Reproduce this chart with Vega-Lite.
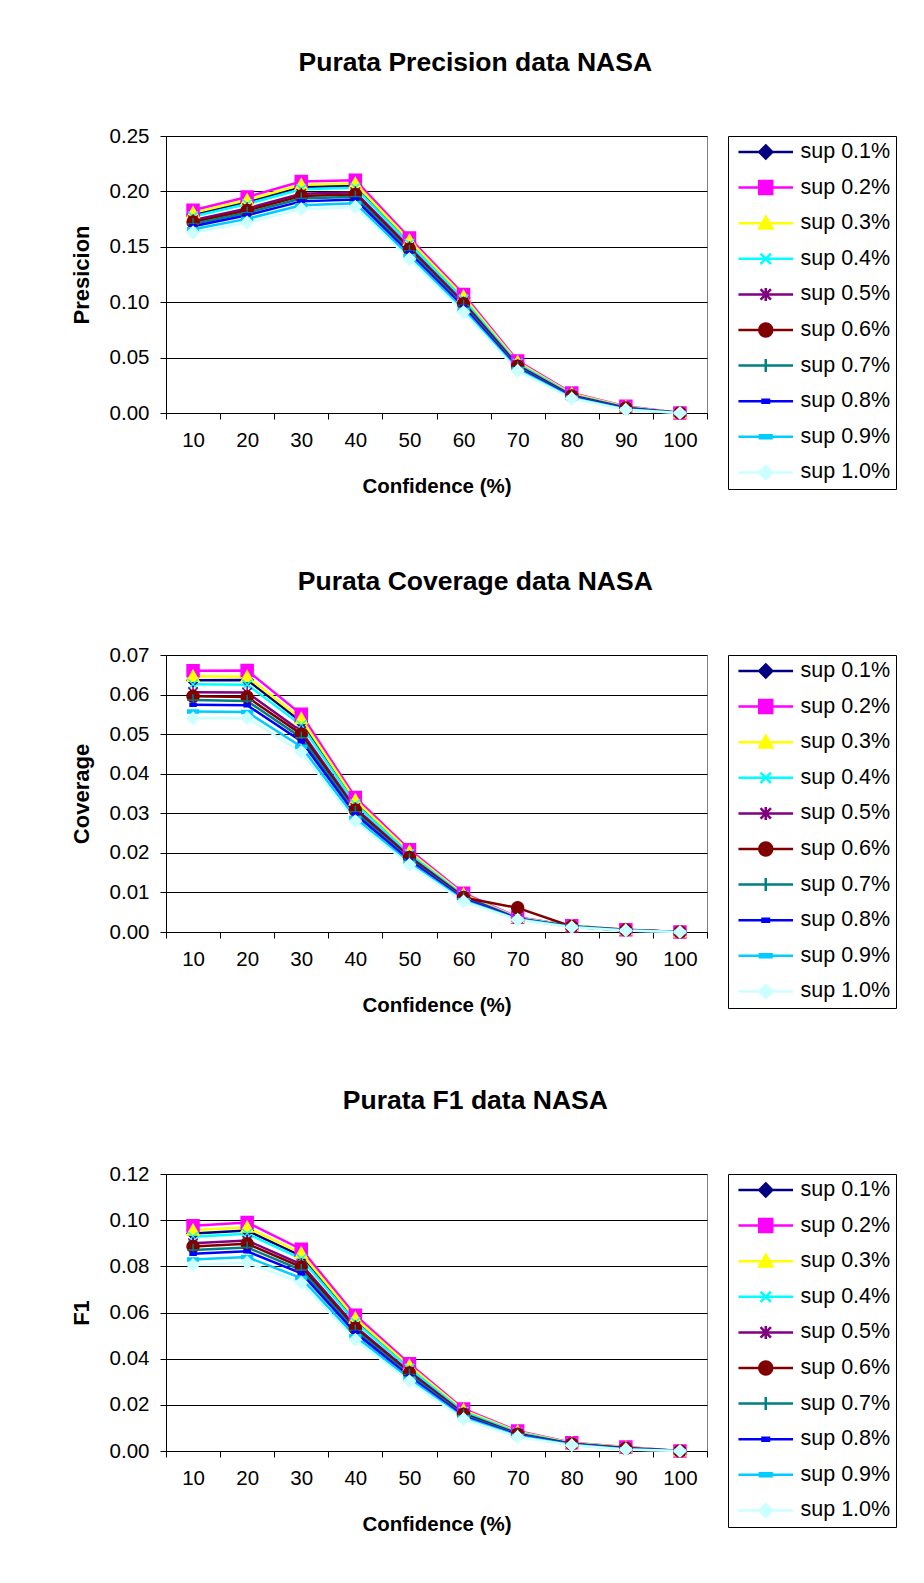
{
  "$schema": "https://vega.github.io/schema/vega-lite/v6.json",
  "padding": {"left": 69, "top": 49, "right": 5, "bottom": 5},
  "background": "white",
  "spacing": 70,
  "datasets": {
    "d": [
      {"sup": "sup 0.1%", "conf": 10, "p": 0.179, "c": 0.0636, "f": 0.0942},
      {"sup": "sup 0.1%", "conf": 20, "p": 0.1904, "c": 0.0637, "f": 0.0955},
      {"sup": "sup 0.1%", "conf": 30, "p": 0.204, "c": 0.0531, "f": 0.0845},
      {"sup": "sup 0.1%", "conf": 40, "p": 0.2052, "c": 0.0328, "f": 0.0567},
      {"sup": "sup 0.1%", "conf": 50, "p": 0.1542, "c": 0.02, "f": 0.0363},
      {"sup": "sup 0.1%", "conf": 60, "p": 0.1038, "c": 0.0094, "f": 0.0173},
      {"sup": "sup 0.1%", "conf": 70, "p": 0.0452, "c": 0.0036, "f": 0.0082},
      {"sup": "sup 0.1%", "conf": 80, "p": 0.017, "c": 0.0015, "f": 0.0034},
      {"sup": "sup 0.1%", "conf": 90, "p": 0.0054, "c": 0.0006, "f": 0.0015},
      {"sup": "sup 0.1%", "conf": 100, "p": 0, "c": 0, "f": 0},
      {"sup": "sup 0.2%", "conf": 10, "p": 0.183, "c": 0.066, "f": 0.0976},
      {"sup": "sup 0.2%", "conf": 20, "p": 0.195, "c": 0.0661, "f": 0.099},
      {"sup": "sup 0.2%", "conf": 30, "p": 0.209, "c": 0.055, "f": 0.0874},
      {"sup": "sup 0.2%", "conf": 40, "p": 0.21, "c": 0.034, "f": 0.0588},
      {"sup": "sup 0.2%", "conf": 50, "p": 0.158, "c": 0.0208, "f": 0.0378},
      {"sup": "sup 0.2%", "conf": 60, "p": 0.107, "c": 0.0098, "f": 0.0182},
      {"sup": "sup 0.2%", "conf": 70, "p": 0.047, "c": 0.0037, "f": 0.0087},
      {"sup": "sup 0.2%", "conf": 80, "p": 0.018, "c": 0.0016, "f": 0.0036},
      {"sup": "sup 0.2%", "conf": 90, "p": 0.006, "c": 0.0006, "f": 0.0017},
      {"sup": "sup 0.2%", "conf": 100, "p": 0, "c": 0, "f": 0},
      {"sup": "sup 0.3%", "conf": 10, "p": 0.1806, "c": 0.0646, "f": 0.0956},
      {"sup": "sup 0.3%", "conf": 20, "p": 0.1922, "c": 0.0645, "f": 0.0969},
      {"sup": "sup 0.3%", "conf": 30, "p": 0.206, "c": 0.0539, "f": 0.0857},
      {"sup": "sup 0.3%", "conf": 40, "p": 0.2071, "c": 0.0333, "f": 0.0575},
      {"sup": "sup 0.3%", "conf": 50, "p": 0.1557, "c": 0.0203, "f": 0.0369},
      {"sup": "sup 0.3%", "conf": 60, "p": 0.1051, "c": 0.0095, "f": 0.0177},
      {"sup": "sup 0.3%", "conf": 70, "p": 0.0459, "c": 0.0036, "f": 0.0084},
      {"sup": "sup 0.3%", "conf": 80, "p": 0.0174, "c": 0.0016, "f": 0.0035},
      {"sup": "sup 0.3%", "conf": 90, "p": 0.0056, "c": 0.0006, "f": 0.0016},
      {"sup": "sup 0.3%", "conf": 100, "p": 0, "c": 0, "f": 0},
      {"sup": "sup 0.4%", "conf": 10, "p": 0.1774, "c": 0.0626, "f": 0.0928},
      {"sup": "sup 0.4%", "conf": 20, "p": 0.1886, "c": 0.0625, "f": 0.0941},
      {"sup": "sup 0.4%", "conf": 30, "p": 0.202, "c": 0.0523, "f": 0.0833},
      {"sup": "sup 0.4%", "conf": 40, "p": 0.2033, "c": 0.0323, "f": 0.0558},
      {"sup": "sup 0.4%", "conf": 50, "p": 0.1527, "c": 0.0197, "f": 0.0357},
      {"sup": "sup 0.4%", "conf": 60, "p": 0.1025, "c": 0.0092, "f": 0.017},
      {"sup": "sup 0.4%", "conf": 70, "p": 0.0445, "c": 0.0035, "f": 0.008},
      {"sup": "sup 0.4%", "conf": 80, "p": 0.0166, "c": 0.0015, "f": 0.0033},
      {"sup": "sup 0.4%", "conf": 90, "p": 0.0052, "c": 0.0005, "f": 0.0014},
      {"sup": "sup 0.4%", "conf": 100, "p": 0, "c": 0, "f": 0},
      {"sup": "sup 0.5%", "conf": 10, "p": 0.174, "c": 0.0606, "f": 0.09},
      {"sup": "sup 0.5%", "conf": 20, "p": 0.1847, "c": 0.0605, "f": 0.0912},
      {"sup": "sup 0.5%", "conf": 30, "p": 0.1978, "c": 0.0507, "f": 0.0809},
      {"sup": "sup 0.5%", "conf": 40, "p": 0.1992, "c": 0.0313, "f": 0.054},
      {"sup": "sup 0.5%", "conf": 50, "p": 0.1495, "c": 0.0191, "f": 0.0344},
      {"sup": "sup 0.5%", "conf": 60, "p": 0.0998, "c": 0.0089, "f": 0.0162},
      {"sup": "sup 0.5%", "conf": 70, "p": 0.043, "c": 0.0034, "f": 0.0075},
      {"sup": "sup 0.5%", "conf": 80, "p": 0.0158, "c": 0.0014, "f": 0.0031},
      {"sup": "sup 0.5%", "conf": 90, "p": 0.0047, "c": 0.0005, "f": 0.0013},
      {"sup": "sup 0.5%", "conf": 100, "p": 0, "c": 0, "f": 0},
      {"sup": "sup 0.6%", "conf": 10, "p": 0.1724, "c": 0.0596, "f": 0.0886},
      {"sup": "sup 0.6%", "conf": 20, "p": 0.1828, "c": 0.0594, "f": 0.0898},
      {"sup": "sup 0.6%", "conf": 30, "p": 0.1958, "c": 0.05, "f": 0.0797},
      {"sup": "sup 0.6%", "conf": 40, "p": 0.1973, "c": 0.0308, "f": 0.0532},
      {"sup": "sup 0.6%", "conf": 50, "p": 0.1479, "c": 0.0188, "f": 0.0338},
      {"sup": "sup 0.6%", "conf": 60, "p": 0.0985, "c": 0.0087, "f": 0.0159},
      {"sup": "sup 0.6%", "conf": 70, "p": 0.0422, "c": 0.0061, "f": 0.0073},
      {"sup": "sup 0.6%", "conf": 80, "p": 0.0154, "c": 0.0014, "f": 0.003},
      {"sup": "sup 0.6%", "conf": 90, "p": 0.0044, "c": 0.0005, "f": 0.0012},
      {"sup": "sup 0.6%", "conf": 100, "p": 0, "c": 0, "f": 0},
      {"sup": "sup 0.7%", "conf": 10, "p": 0.1706, "c": 0.0586, "f": 0.0871},
      {"sup": "sup 0.7%", "conf": 20, "p": 0.1807, "c": 0.0584, "f": 0.0882},
      {"sup": "sup 0.7%", "conf": 30, "p": 0.1935, "c": 0.0491, "f": 0.0784},
      {"sup": "sup 0.7%", "conf": 40, "p": 0.1951, "c": 0.0303, "f": 0.0522},
      {"sup": "sup 0.7%", "conf": 50, "p": 0.1462, "c": 0.0184, "f": 0.0331},
      {"sup": "sup 0.7%", "conf": 60, "p": 0.0971, "c": 0.0085, "f": 0.0155},
      {"sup": "sup 0.7%", "conf": 70, "p": 0.0414, "c": 0.0033, "f": 0.0071},
      {"sup": "sup 0.7%", "conf": 80, "p": 0.0149, "c": 0.0014, "f": 0.0029},
      {"sup": "sup 0.7%", "conf": 90, "p": 0.0041, "c": 0.0005, "f": 0.0011},
      {"sup": "sup 0.7%", "conf": 100, "p": 0, "c": 0, "f": 0},
      {"sup": "sup 0.8%", "conf": 10, "p": 0.1686, "c": 0.0574, "f": 0.0854},
      {"sup": "sup 0.8%", "conf": 20, "p": 0.1784, "c": 0.0573, "f": 0.0865},
      {"sup": "sup 0.8%", "conf": 30, "p": 0.191, "c": 0.0482, "f": 0.077},
      {"sup": "sup 0.8%", "conf": 40, "p": 0.1927, "c": 0.0297, "f": 0.0512},
      {"sup": "sup 0.8%", "conf": 50, "p": 0.1443, "c": 0.0181, "f": 0.0323},
      {"sup": "sup 0.8%", "conf": 60, "p": 0.0955, "c": 0.0083, "f": 0.015},
      {"sup": "sup 0.8%", "conf": 70, "p": 0.0405, "c": 0.0033, "f": 0.0068},
      {"sup": "sup 0.8%", "conf": 80, "p": 0.0144, "c": 0.0013, "f": 0.0028},
      {"sup": "sup 0.8%", "conf": 90, "p": 0.0038, "c": 0.0004, "f": 0.001},
      {"sup": "sup 0.8%", "conf": 100, "p": 0, "c": 0, "f": 0},
      {"sup": "sup 0.9%", "conf": 10, "p": 0.1658, "c": 0.0557, "f": 0.083},
      {"sup": "sup 0.9%", "conf": 20, "p": 0.1752, "c": 0.0556, "f": 0.084},
      {"sup": "sup 0.9%", "conf": 30, "p": 0.1875, "c": 0.0468, "f": 0.0749},
      {"sup": "sup 0.9%", "conf": 40, "p": 0.1894, "c": 0.0288, "f": 0.0497},
      {"sup": "sup 0.9%", "conf": 50, "p": 0.1417, "c": 0.0175, "f": 0.0313},
      {"sup": "sup 0.9%", "conf": 60, "p": 0.0932, "c": 0.008, "f": 0.0144},
      {"sup": "sup 0.9%", "conf": 70, "p": 0.0393, "c": 0.0032, "f": 0.0065},
      {"sup": "sup 0.9%", "conf": 80, "p": 0.0137, "c": 0.0013, "f": 0.0027},
      {"sup": "sup 0.9%", "conf": 90, "p": 0.0034, "c": 0.0004, "f": 0.0008},
      {"sup": "sup 0.9%", "conf": 100, "p": 0, "c": 0, "f": 0},
      {"sup": "sup 1.0%", "conf": 10, "p": 0.163, "c": 0.054, "f": 0.0806},
      {"sup": "sup 1.0%", "conf": 20, "p": 0.172, "c": 0.0541, "f": 0.0816},
      {"sup": "sup 1.0%", "conf": 30, "p": 0.184, "c": 0.0455, "f": 0.0729},
      {"sup": "sup 1.0%", "conf": 40, "p": 0.186, "c": 0.028, "f": 0.0482},
      {"sup": "sup 1.0%", "conf": 50, "p": 0.139, "c": 0.017, "f": 0.0302},
      {"sup": "sup 1.0%", "conf": 60, "p": 0.091, "c": 0.0077, "f": 0.0138},
      {"sup": "sup 1.0%", "conf": 70, "p": 0.038, "c": 0.0031, "f": 0.0061},
      {"sup": "sup 1.0%", "conf": 80, "p": 0.013, "c": 0.0012, "f": 0.0025},
      {"sup": "sup 1.0%", "conf": 90, "p": 0.003, "c": 0.0004, "f": 0.0007},
      {"sup": "sup 1.0%", "conf": 100, "p": 0, "c": 0, "f": 0}
    ]
  },
  "data": {"name": "d"},
  "vconcat": [
    {
      "title": {"text": "Purata Precision data NASA"},
      "width": 541, "height": 277,
      "layer": [
        {
          "mark": {"type": "line", "strokeWidth": 2.5},
          "encoding": {
            "x": {"field": "conf", "type": "ordinal", "scale": {"type": "band", "paddingInner": 0, "paddingOuter": 0}, "axis": {"title": "Confidence (%)", "labelAngle": 0, "tickBand": "extent", "grid": false}},
            "y": {"field": "p", "type": "quantitative", "scale": {"domain": [0, 0.25]}, "axis": {"title": "Presicion", "values": [0, 0.05, 0.1, 0.15, 0.2, 0.25], "format": ".2f"}},
            "color": {"field": "sup", "type": "nominal", "scale": {"domain": ["sup 0.1%","sup 0.2%","sup 0.3%","sup 0.4%","sup 0.5%","sup 0.6%","sup 0.7%","sup 0.8%","sup 0.9%","sup 1.0%"], "range": ["#000080","#FF00FF","#FFFF00","#00FFFF","#800080","#800000","#008080","#0000FF","#00CCFF","#CCFFFF"]}, "legend": null}
          }
        },
        {
          "mark": {"type": "point", "filled": true, "size": 144, "strokeWidth": 1.5, "opacity": 1},
          "encoding": {
            "x": {"field": "conf", "type": "ordinal", "scale": {"type": "band", "paddingInner": 0, "paddingOuter": 0}, "axis": {"title": "Confidence (%)", "labelAngle": 0, "tickBand": "extent", "grid": false}},
            "y": {"field": "p", "type": "quantitative", "scale": {"domain": [0, 0.25]}, "axis": {"title": "Presicion", "values": [0, 0.05, 0.1, 0.15, 0.2, 0.25], "format": ".2f"}},
            "fill": {"field": "sup", "type": "nominal", "scale": {"domain": ["sup 0.1%","sup 0.2%","sup 0.3%","sup 0.4%","sup 0.5%","sup 0.6%","sup 0.7%","sup 0.8%","sup 0.9%","sup 1.0%"], "range": ["#000080","#FF00FF","#FFFF00","#00FFFF","#800080","#800000","#008080","#0000FF","#00CCFF","#CCFFFF"]}, "legend": null},
            "stroke": {"field": "sup", "type": "nominal", "scale": {"domain": ["sup 0.1%","sup 0.2%","sup 0.3%","sup 0.4%","sup 0.5%","sup 0.6%","sup 0.7%","sup 0.8%","sup 0.9%","sup 1.0%"], "range": ["#000080","#FF00FF","#FFFF00","#00FFFF","#800080","#800000","#008080","#0000FF","#00CCFF","#CCFFFF"]}, "legend": null},
            "shape": {"field": "sup", "type": "nominal", "scale": {"domain": ["sup 0.1%","sup 0.2%","sup 0.3%","sup 0.4%","sup 0.5%","sup 0.6%","sup 0.7%","sup 0.8%","sup 0.9%","sup 1.0%"], "range": ["M0,-1L1,0L0,1L-1,0Z","M-1,-1L1,-1L1,1L-1,1Z","M0,-1L1,0.8L-1,0.8Z","M-0.8,-0.8L0.8,0.8M0.8,-0.8L-0.8,0.8","M-0.8,-0.8L0.8,0.8M0.8,-0.8L-0.8,0.8M0,-1L0,1","M1,0A1,1,0,1,1,-1,0A1,1,0,1,1,1,0Z","M0,-1L0,1M-1,0L1,0","M-0.5,-0.25L0.5,-0.25L0.5,0.25L-0.5,0.25Z","M-0.9,-0.25L0.9,-0.25L0.9,0.25L-0.9,0.25Z","M0,-1L1,0L0,1L-1,0Z"]}, "legend": null}
          }
        },
        {
          "transform": [{"filter": "datum.conf < 0"}],
          "mark": {"type": "point", "filled": true, "opacity": 1},
          "encoding": {
            "fill": {"field": "sup", "type": "nominal", "scale": {"domain": ["sup 0.1%","sup 0.2%","sup 0.3%","sup 0.4%","sup 0.5%","sup 0.6%","sup 0.7%","sup 0.8%","sup 0.9%","sup 1.0%"], "range": ["#000080","#FF00FF","#FFFF00","#00FFFF","#800080","#800000","#008080","#0000FF","#00CCFF","#CCFFFF"]}, "legend": {"title": null, "labelExpr": "datum.label + '\u00a0'"}},
            "stroke": {"field": "sup", "type": "nominal", "scale": {"domain": ["sup 0.1%","sup 0.2%","sup 0.3%","sup 0.4%","sup 0.5%","sup 0.6%","sup 0.7%","sup 0.8%","sup 0.9%","sup 1.0%"], "range": ["#000080","#FF00FF","#FFFF00","#00FFFF","#800080","#800000","#008080","#0000FF","#00CCFF","#CCFFFF"]}, "legend": {"title": null, "labelExpr": "datum.label + '\u00a0'"}},
            "shape": {"field": "sup", "type": "nominal", "scale": {"domain": ["sup 0.1%","sup 0.2%","sup 0.3%","sup 0.4%","sup 0.5%","sup 0.6%","sup 0.7%","sup 0.8%","sup 0.9%","sup 1.0%"], "range": ["M-4.2,0L4.2,0M0,-1L1,0L0,1L-1,0Z","M-4.2,0L4.2,0M-1,-1L1,-1L1,1L-1,1Z","M-4.2,0L4.2,0M0,-1L1,0.8L-1,0.8Z","M-4.2,0L4.2,0M-0.8,-0.8L0.8,0.8M0.8,-0.8L-0.8,0.8","M-4.2,0L4.2,0M-0.8,-0.8L0.8,0.8M0.8,-0.8L-0.8,0.8M0,-1L0,1","M-4.2,0L4.2,0M1,0A1,1,0,1,1,-1,0A1,1,0,1,1,1,0Z","M-4.2,0L4.2,0M0,-1L0,1","M-4.2,0L4.2,0M-0.5,-0.22L0.5,-0.22L0.5,0.22L-0.5,0.22Z","M-4.2,0L4.2,0M-0.9,-0.22L0.9,-0.22L0.9,0.22L-0.9,0.22Z","M-4.2,0L4.2,0M0,-1L1,0L0,1L-1,0Z"]}, "legend": {"title": null, "labelExpr": "datum.label + '\u00a0'"}}
          }
        }
      ],
      "resolve": {"scale": {"color": "independent", "fill": "independent", "stroke": "independent", "shape": "independent"}}
    },
    {
      "title": {"text": "Purata Coverage data NASA"},
      "width": 541, "height": 277,
      "layer": [
        {
          "mark": {"type": "line", "strokeWidth": 2.5},
          "encoding": {
            "x": {"field": "conf", "type": "ordinal", "scale": {"type": "band", "paddingInner": 0, "paddingOuter": 0}, "axis": {"title": "Confidence (%)", "labelAngle": 0, "tickBand": "extent", "grid": false}},
            "y": {"field": "c", "type": "quantitative", "scale": {"domain": [0, 0.07]}, "axis": {"title": "Coverage", "values": [0, 0.01, 0.02, 0.03, 0.04, 0.05, 0.06, 0.07], "format": ".2f"}},
            "color": {"field": "sup", "type": "nominal", "scale": {"domain": ["sup 0.1%","sup 0.2%","sup 0.3%","sup 0.4%","sup 0.5%","sup 0.6%","sup 0.7%","sup 0.8%","sup 0.9%","sup 1.0%"], "range": ["#000080","#FF00FF","#FFFF00","#00FFFF","#800080","#800000","#008080","#0000FF","#00CCFF","#CCFFFF"]}, "legend": null}
          }
        },
        {
          "mark": {"type": "point", "filled": true, "size": 144, "strokeWidth": 1.5, "opacity": 1},
          "encoding": {
            "x": {"field": "conf", "type": "ordinal", "scale": {"type": "band", "paddingInner": 0, "paddingOuter": 0}, "axis": {"title": "Confidence (%)", "labelAngle": 0, "tickBand": "extent", "grid": false}},
            "y": {"field": "c", "type": "quantitative", "scale": {"domain": [0, 0.07]}, "axis": {"title": "Coverage", "values": [0, 0.01, 0.02, 0.03, 0.04, 0.05, 0.06, 0.07], "format": ".2f"}},
            "fill": {"field": "sup", "type": "nominal", "scale": {"domain": ["sup 0.1%","sup 0.2%","sup 0.3%","sup 0.4%","sup 0.5%","sup 0.6%","sup 0.7%","sup 0.8%","sup 0.9%","sup 1.0%"], "range": ["#000080","#FF00FF","#FFFF00","#00FFFF","#800080","#800000","#008080","#0000FF","#00CCFF","#CCFFFF"]}, "legend": null},
            "stroke": {"field": "sup", "type": "nominal", "scale": {"domain": ["sup 0.1%","sup 0.2%","sup 0.3%","sup 0.4%","sup 0.5%","sup 0.6%","sup 0.7%","sup 0.8%","sup 0.9%","sup 1.0%"], "range": ["#000080","#FF00FF","#FFFF00","#00FFFF","#800080","#800000","#008080","#0000FF","#00CCFF","#CCFFFF"]}, "legend": null},
            "shape": {"field": "sup", "type": "nominal", "scale": {"domain": ["sup 0.1%","sup 0.2%","sup 0.3%","sup 0.4%","sup 0.5%","sup 0.6%","sup 0.7%","sup 0.8%","sup 0.9%","sup 1.0%"], "range": ["M0,-1L1,0L0,1L-1,0Z","M-1,-1L1,-1L1,1L-1,1Z","M0,-1L1,0.8L-1,0.8Z","M-0.8,-0.8L0.8,0.8M0.8,-0.8L-0.8,0.8","M-0.8,-0.8L0.8,0.8M0.8,-0.8L-0.8,0.8M0,-1L0,1","M1,0A1,1,0,1,1,-1,0A1,1,0,1,1,1,0Z","M0,-1L0,1M-1,0L1,0","M-0.5,-0.25L0.5,-0.25L0.5,0.25L-0.5,0.25Z","M-0.9,-0.25L0.9,-0.25L0.9,0.25L-0.9,0.25Z","M0,-1L1,0L0,1L-1,0Z"]}, "legend": null}
          }
        },
        {
          "transform": [{"filter": "datum.conf < 0"}],
          "mark": {"type": "point", "filled": true, "opacity": 1},
          "encoding": {
            "fill": {"field": "sup", "type": "nominal", "scale": {"domain": ["sup 0.1%","sup 0.2%","sup 0.3%","sup 0.4%","sup 0.5%","sup 0.6%","sup 0.7%","sup 0.8%","sup 0.9%","sup 1.0%"], "range": ["#000080","#FF00FF","#FFFF00","#00FFFF","#800080","#800000","#008080","#0000FF","#00CCFF","#CCFFFF"]}, "legend": {"title": null, "labelExpr": "datum.label + '\u00a0'"}},
            "stroke": {"field": "sup", "type": "nominal", "scale": {"domain": ["sup 0.1%","sup 0.2%","sup 0.3%","sup 0.4%","sup 0.5%","sup 0.6%","sup 0.7%","sup 0.8%","sup 0.9%","sup 1.0%"], "range": ["#000080","#FF00FF","#FFFF00","#00FFFF","#800080","#800000","#008080","#0000FF","#00CCFF","#CCFFFF"]}, "legend": {"title": null, "labelExpr": "datum.label + '\u00a0'"}},
            "shape": {"field": "sup", "type": "nominal", "scale": {"domain": ["sup 0.1%","sup 0.2%","sup 0.3%","sup 0.4%","sup 0.5%","sup 0.6%","sup 0.7%","sup 0.8%","sup 0.9%","sup 1.0%"], "range": ["M-4.2,0L4.2,0M0,-1L1,0L0,1L-1,0Z","M-4.2,0L4.2,0M-1,-1L1,-1L1,1L-1,1Z","M-4.2,0L4.2,0M0,-1L1,0.8L-1,0.8Z","M-4.2,0L4.2,0M-0.8,-0.8L0.8,0.8M0.8,-0.8L-0.8,0.8","M-4.2,0L4.2,0M-0.8,-0.8L0.8,0.8M0.8,-0.8L-0.8,0.8M0,-1L0,1","M-4.2,0L4.2,0M1,0A1,1,0,1,1,-1,0A1,1,0,1,1,1,0Z","M-4.2,0L4.2,0M0,-1L0,1","M-4.2,0L4.2,0M-0.5,-0.22L0.5,-0.22L0.5,0.22L-0.5,0.22Z","M-4.2,0L4.2,0M-0.9,-0.22L0.9,-0.22L0.9,0.22L-0.9,0.22Z","M-4.2,0L4.2,0M0,-1L1,0L0,1L-1,0Z"]}, "legend": {"title": null, "labelExpr": "datum.label + '\u00a0'"}}
          }
        }
      ],
      "resolve": {"scale": {"color": "independent", "fill": "independent", "stroke": "independent", "shape": "independent"}}
    },
    {
      "title": {"text": "Purata F1 data NASA"},
      "width": 541, "height": 277,
      "layer": [
        {
          "mark": {"type": "line", "strokeWidth": 2.5},
          "encoding": {
            "x": {"field": "conf", "type": "ordinal", "scale": {"type": "band", "paddingInner": 0, "paddingOuter": 0}, "axis": {"title": "Confidence (%)", "labelAngle": 0, "tickBand": "extent", "grid": false}},
            "y": {"field": "f", "type": "quantitative", "scale": {"domain": [0, 0.12]}, "axis": {"title": "F1", "values": [0, 0.02, 0.04, 0.06, 0.08, 0.1, 0.12], "format": ".2f"}},
            "color": {"field": "sup", "type": "nominal", "scale": {"domain": ["sup 0.1%","sup 0.2%","sup 0.3%","sup 0.4%","sup 0.5%","sup 0.6%","sup 0.7%","sup 0.8%","sup 0.9%","sup 1.0%"], "range": ["#000080","#FF00FF","#FFFF00","#00FFFF","#800080","#800000","#008080","#0000FF","#00CCFF","#CCFFFF"]}, "legend": null}
          }
        },
        {
          "mark": {"type": "point", "filled": true, "size": 144, "strokeWidth": 1.5, "opacity": 1},
          "encoding": {
            "x": {"field": "conf", "type": "ordinal", "scale": {"type": "band", "paddingInner": 0, "paddingOuter": 0}, "axis": {"title": "Confidence (%)", "labelAngle": 0, "tickBand": "extent", "grid": false}},
            "y": {"field": "f", "type": "quantitative", "scale": {"domain": [0, 0.12]}, "axis": {"title": "F1", "values": [0, 0.02, 0.04, 0.06, 0.08, 0.1, 0.12], "format": ".2f"}},
            "fill": {"field": "sup", "type": "nominal", "scale": {"domain": ["sup 0.1%","sup 0.2%","sup 0.3%","sup 0.4%","sup 0.5%","sup 0.6%","sup 0.7%","sup 0.8%","sup 0.9%","sup 1.0%"], "range": ["#000080","#FF00FF","#FFFF00","#00FFFF","#800080","#800000","#008080","#0000FF","#00CCFF","#CCFFFF"]}, "legend": null},
            "stroke": {"field": "sup", "type": "nominal", "scale": {"domain": ["sup 0.1%","sup 0.2%","sup 0.3%","sup 0.4%","sup 0.5%","sup 0.6%","sup 0.7%","sup 0.8%","sup 0.9%","sup 1.0%"], "range": ["#000080","#FF00FF","#FFFF00","#00FFFF","#800080","#800000","#008080","#0000FF","#00CCFF","#CCFFFF"]}, "legend": null},
            "shape": {"field": "sup", "type": "nominal", "scale": {"domain": ["sup 0.1%","sup 0.2%","sup 0.3%","sup 0.4%","sup 0.5%","sup 0.6%","sup 0.7%","sup 0.8%","sup 0.9%","sup 1.0%"], "range": ["M0,-1L1,0L0,1L-1,0Z","M-1,-1L1,-1L1,1L-1,1Z","M0,-1L1,0.8L-1,0.8Z","M-0.8,-0.8L0.8,0.8M0.8,-0.8L-0.8,0.8","M-0.8,-0.8L0.8,0.8M0.8,-0.8L-0.8,0.8M0,-1L0,1","M1,0A1,1,0,1,1,-1,0A1,1,0,1,1,1,0Z","M0,-1L0,1M-1,0L1,0","M-0.5,-0.25L0.5,-0.25L0.5,0.25L-0.5,0.25Z","M-0.9,-0.25L0.9,-0.25L0.9,0.25L-0.9,0.25Z","M0,-1L1,0L0,1L-1,0Z"]}, "legend": null}
          }
        },
        {
          "transform": [{"filter": "datum.conf < 0"}],
          "mark": {"type": "point", "filled": true, "opacity": 1},
          "encoding": {
            "fill": {"field": "sup", "type": "nominal", "scale": {"domain": ["sup 0.1%","sup 0.2%","sup 0.3%","sup 0.4%","sup 0.5%","sup 0.6%","sup 0.7%","sup 0.8%","sup 0.9%","sup 1.0%"], "range": ["#000080","#FF00FF","#FFFF00","#00FFFF","#800080","#800000","#008080","#0000FF","#00CCFF","#CCFFFF"]}, "legend": {"title": null, "labelExpr": "datum.label + '\u00a0'"}},
            "stroke": {"field": "sup", "type": "nominal", "scale": {"domain": ["sup 0.1%","sup 0.2%","sup 0.3%","sup 0.4%","sup 0.5%","sup 0.6%","sup 0.7%","sup 0.8%","sup 0.9%","sup 1.0%"], "range": ["#000080","#FF00FF","#FFFF00","#00FFFF","#800080","#800000","#008080","#0000FF","#00CCFF","#CCFFFF"]}, "legend": {"title": null, "labelExpr": "datum.label + '\u00a0'"}},
            "shape": {"field": "sup", "type": "nominal", "scale": {"domain": ["sup 0.1%","sup 0.2%","sup 0.3%","sup 0.4%","sup 0.5%","sup 0.6%","sup 0.7%","sup 0.8%","sup 0.9%","sup 1.0%"], "range": ["M-4.2,0L4.2,0M0,-1L1,0L0,1L-1,0Z","M-4.2,0L4.2,0M-1,-1L1,-1L1,1L-1,1Z","M-4.2,0L4.2,0M0,-1L1,0.8L-1,0.8Z","M-4.2,0L4.2,0M-0.8,-0.8L0.8,0.8M0.8,-0.8L-0.8,0.8","M-4.2,0L4.2,0M-0.8,-0.8L0.8,0.8M0.8,-0.8L-0.8,0.8M0,-1L0,1","M-4.2,0L4.2,0M1,0A1,1,0,1,1,-1,0A1,1,0,1,1,1,0Z","M-4.2,0L4.2,0M0,-1L0,1","M-4.2,0L4.2,0M-0.5,-0.22L0.5,-0.22L0.5,0.22L-0.5,0.22Z","M-4.2,0L4.2,0M-0.9,-0.22L0.9,-0.22L0.9,0.22L-0.9,0.22Z","M-4.2,0L4.2,0M0,-1L1,0L0,1L-1,0Z"]}, "legend": {"title": null, "labelExpr": "datum.label + '\u00a0'"}}
          }
        }
      ],
      "resolve": {"scale": {"color": "independent", "fill": "independent", "stroke": "independent", "shape": "independent"}}
    }
  ],
  "config": {
    "font": "Liberation Sans",
    "view": {"fill": "#C0C0C0", "stroke": "#808080", "strokeWidth": 1},
    "title": {"font": "Liberation Sans", "fontSize": 26.5, "fontWeight": "bold", "color": "#000", "frame": "bounds", "anchor": "middle", "offset": 50, "dx": -8},
    "axis": {"labelFont": "Liberation Sans", "labelFontSize": 20.5, "labelColor": "#000", "titleFont": "Liberation Sans", "titleFontWeight": "bold", "titleColor": "#000", "domainColor": "#000", "tickColor": "#000", "tickSize": 6, "gridColor": "#000", "gridOpacity": 1, "gridWidth": 1},
    "axisY": {"labelPadding": 11, "titlePadding": 16, "titleFontSize": 22},
    "axisX": {"labelPadding": 11, "titlePadding": 26, "titleFontSize": 20.5},
    "legend": {"strokeColor": "#000", "padding": 5, "offset": 21, "labelFont": "Liberation Sans", "labelFontSize": 21.5, "labelColor": "#000", "symbolSize": 169, "symbolStrokeWidth": 2.5, "rowPadding": 13.6, "clipHeight": 22, "symbolOffset": 22, "labelOffset": 24, "symbolOpacity": 1}
  }
}
